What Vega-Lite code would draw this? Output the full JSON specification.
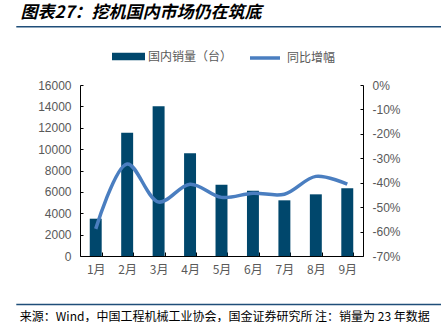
{
  "$schema": "https://vega.github.io/schema/vega-lite/v6.json",
  "padding": {"left": 15, "top": 3, "right": 0, "bottom": 0},
  "background": "white",
  "config": {"view": {"stroke": null}, "font": "Liberation Sans"},
  "width": 283,
  "height": 171,
  "title": {"text": "图表27：挖机国内市场仍在筑底", "anchor": "start", "frame": "bounds", "font": "Noto Sans CJK SC", "fontSize": 17, "fontStyle": "italic", "fontWeight": "bold", "color": "#000000", "offset": 4, "dx": 5},
  "layer": [
    {
      "data": {"values": [
        {"month": "1月", "sales": 3490, "yoy": -58.9},
        {"month": "2月", "sales": 11540, "yoy": -32.3},
        {"month": "3月", "sales": 14010, "yoy": -47.9},
        {"month": "4月", "sales": 9610, "yoy": -40.6},
        {"month": "5月", "sales": 6670, "yoy": -46.0},
        {"month": "6月", "sales": 6110, "yoy": -44.3},
        {"month": "7月", "sales": 5210, "yoy": -44.7},
        {"month": "8月", "sales": 5770, "yoy": -37.4},
        {"month": "9月", "sales": 6330, "yoy": -40.6}
      ]},
      "encoding": {
        "x": {
          "field": "month", "type": "ordinal", "sort": null,
          "scale": {"paddingInner": 0.62, "paddingOuter": 0.31},
          "axis": {"title": "来源：Wind，中国工程机械工业协会，国金证券研究所 注：销量为 23 年数据", "titleFont": "Noto Sans CJK SC", "titleFontSize": 12, "titleFontWeight": "normal", "titleColor": "#000000", "titleAnchor": "start", "titleAlign": "left", "titleBaseline": "top", "titleX": -60.7, "titleY": 55, "labelAngle": 0, "tickBand": "extent", "tickSize": -4, "domainColor": "#000000", "tickColor": "#000000", "labelColor": "#595959", "labelFont": "Noto Sans CJK SC", "labelFontSize": 12, "labelPadding": 12}
        }
      },
      "layer": [
        {
          "mark": {"type": "bar"},
          "encoding": {
            "y": {
              "field": "sales", "type": "quantitative",
              "scale": {"domain": [0, 16000], "nice": false},
              "axis": {"title": null, "values": [0, 2000, 4000, 6000, 8000, 10000, 12000, 14000, 16000], "format": "d", "grid": false, "tickSize": -3, "domainColor": "#000000", "tickColor": "#000000", "labelColor": "#595959", "labelFontSize": 12, "labelPadding": 12}
            },
            "fill": {
              "datum": "国内销量（台）",
              "scale": {"range": ["#00476C"]},
              "legend": {"title": null, "orient": "none", "legendX": 31, "legendY": -46, "direction": "horizontal", "symbolType": "M-1,-0.22H1V0.22H-1Z", "symbolSize": 1089, "labelFont": "Noto Sans CJK SC", "labelFontSize": 12, "labelColor": "#595959", "labelOffset": 2}
            }
          }
        },
        {
          "mark": {"type": "line", "interpolate": "catmull-rom", "strokeWidth": 3.5},
          "encoding": {
            "y": {
              "field": "yoy", "type": "quantitative",
              "scale": {"domain": [-70, 0], "nice": false},
              "axis": {"orient": "right", "title": null, "values": [-70, -60, -50, -40, -30, -20, -10, 0], "labelExpr": "datum.value + '%'", "grid": false, "tickSize": -3, "domainColor": "#000000", "tickColor": "#000000", "labelColor": "#595959", "labelFontSize": 12, "labelPadding": 12}
            },
            "stroke": {
              "datum": "同比增幅",
              "scale": {"range": ["#4A7EC0"]},
              "legend": {"title": null, "orient": "none", "legendX": 168, "legendY": -44, "direction": "horizontal", "symbolType": "stroke", "symbolSize": 900, "symbolStrokeWidth": 3.5, "labelFont": "Noto Sans CJK SC", "labelFontSize": 12, "labelColor": "#595959", "labelOffset": 5}
            }
          }
        }
      ],
      "resolve": {"scale": {"y": "independent"}}
    },
    {
      "data": {"values": [
        {"x1": -0.2251, "x2": 1.2802, "y": 1.341},
        {"x1": -0.2251, "x2": 1.2802, "y": -0.283}
      ]},
      "mark": {"type": "rule", "color": "#1F4E79", "strokeWidth": 1.5},
      "encoding": {
        "x": {"field": "x1", "type": "quantitative", "scale": {"domain": [0, 1], "nice": false, "zero": false}, "axis": null},
        "x2": {"field": "x2"},
        "y": {"field": "y", "type": "quantitative", "scale": {"domain": [0, 1], "nice": false, "zero": false}, "axis": null}
      }
    }
  ],
  "resolve": {"scale": {"x": "independent", "y": "independent"}}
}
